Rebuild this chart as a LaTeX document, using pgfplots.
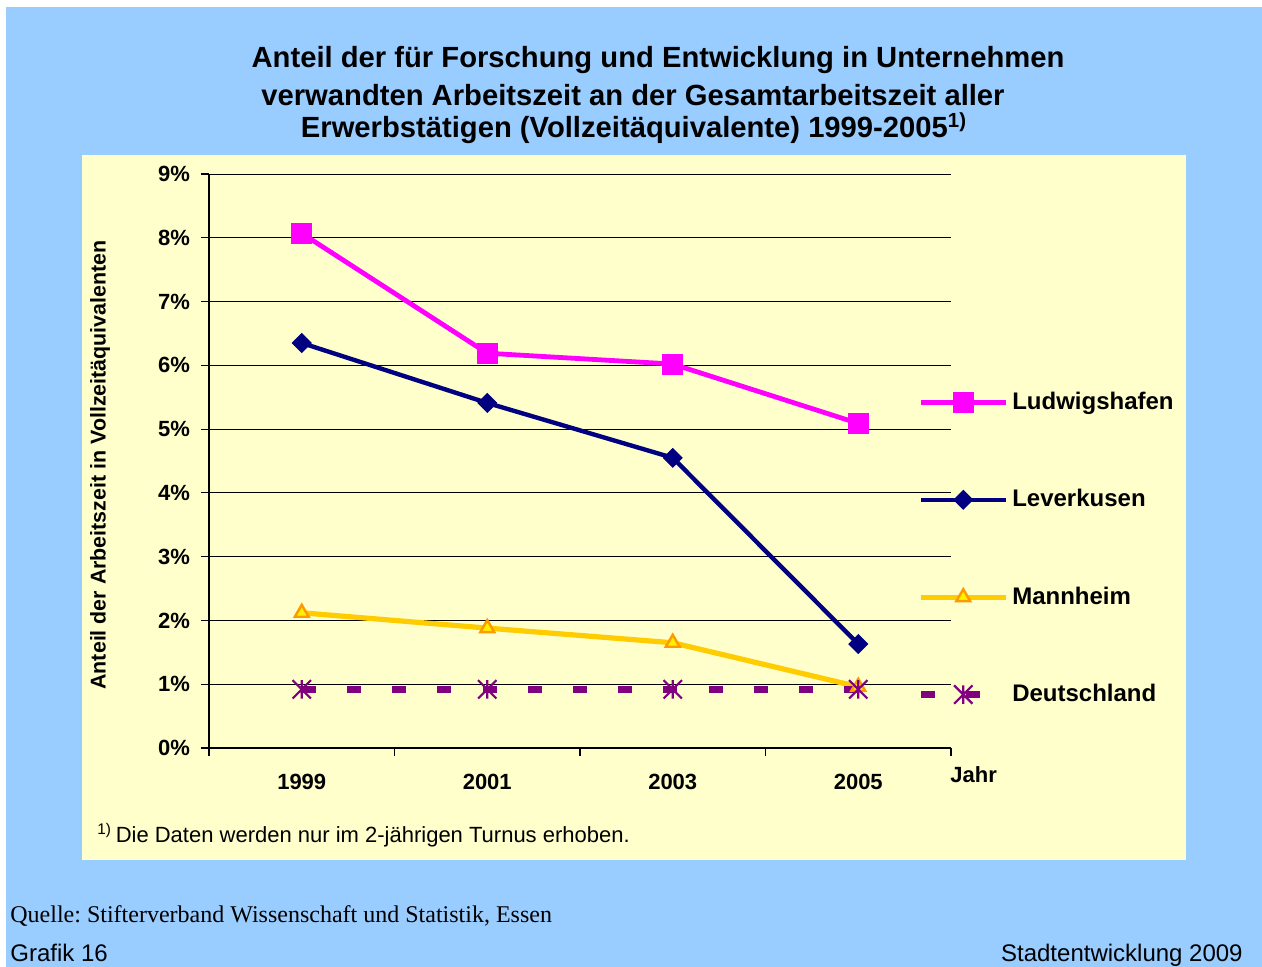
\documentclass[border=0pt]{standalone}
\usepackage{pgfplots}
\pgfplotsset{compat=1.18}
\usepackage{fontspec}
\setmainfont{Liberation Sans}
\newfontfamily\timesfont{Liberation Serif}
\usetikzlibrary{plotmarks}
\frenchspacing
\definecolor{bgBlue}{RGB}{153,204,255}
\definecolor{panelYellow}{RGB}{255,255,204}
\definecolor{lwMagenta}{RGB}{255,0,255}
\definecolor{lvNavy}{RGB}{0,0,128}
\definecolor{maYellow}{RGB}{255,204,0}
\definecolor{maOrange}{RGB}{255,153,0}
\definecolor{dePurple}{RGB}{128,0,128}
% Excel-style star: vertical stroke plus an X
\pgfdeclareplotmark{xlstar}{%
  \pgfpathmoveto{\pgfqpoint{0pt}{\pgfplotmarksize}}%
  \pgfpathlineto{\pgfqpoint{0pt}{-\pgfplotmarksize}}%
  \pgfpathmoveto{\pgfqpoint{-\pgfplotmarksize}{\pgfplotmarksize}}%
  \pgfpathlineto{\pgfqpoint{\pgfplotmarksize}{-\pgfplotmarksize}}%
  \pgfpathmoveto{\pgfqpoint{-\pgfplotmarksize}{-\pgfplotmarksize}}%
  \pgfpathlineto{\pgfqpoint{\pgfplotmarksize}{\pgfplotmarksize}}%
  \pgfusepathqstroke}

\begin{document}
\begin{tikzpicture}
% background, in pixel units (1px = 0.5pt), y up
\begin{scope}[x=0.5pt,y=0.5pt]
\fill[white] (0,0) rectangle (1262,967);
\fill[bgBlue] (6,0) rectangle (1262,960);
\fill[panelYellow] (82,107) rectangle (1186,812);
\node[font=\bfseries\fontsize{14.6}{17}\selectfont] at (658,907) {Anteil der für Forschung und Entwicklung in Unternehmen};
\node[font=\bfseries\fontsize{14.6}{17}\selectfont] at (633,872) {verwandten Arbeitszeit an der Gesamtarbeitszeit aller};
\node[font=\bfseries\fontsize{14.6}{17}\selectfont] at (634,839) {Erwerbstätigen (Vollzeitäquivalente) 1999-2005\textsuperscript{1)}};
\node[font=\bfseries\fontsize{10.7}{13}\selectfont, rotate=90] at (100,502) {Anteil der Arbeitszeit in Vollzeitäquivalenten};
\node[font=\bfseries\fontsize{11}{13}\selectfont, anchor=west, inner sep=0pt] at (950,192) {Jahr};
\node[font=\fontsize{11}{13}\selectfont, anchor=west, inner sep=0pt] at (97,132) {\textsuperscript{1)}\,Die Daten werden nur im 2-jährigen Turnus erhoben.};
\node[font=\timesfont\fontsize{12}{14}\selectfont, anchor=west, inner sep=0pt] at (10,51) {Quelle: Stifterverband Wissenschaft und Statistik, Essen};
\node[font=\fontsize{12}{14}\selectfont, anchor=base west, inner sep=0pt] at (10,5) {Grafik 16};
\node[font=\fontsize{12}{14}\selectfont, anchor=base east, inner sep=0pt] at (1243,5) {Stadtentwicklung 2009};
\end{scope}

\begin{axis}[
    at={(104.5pt,109.5pt)}, anchor=south west,
    scale only axis, width=371pt, height=287pt,
    xmin=-0.5, xmax=3.5, ymin=0, ymax=9,
    axis lines=left, axis line style={-, black, line width=0.6pt},
    xtick={0,1,2,3}, xticklabels={1999,2001,2003,2005},
    minor xtick={-0.5,0.5,1.5,2.5,3.5},
    major x tick style={draw=none},
    minor tick length=4pt, major tick length=4pt,
    tick align=outside, tick style={black, line width=0.6pt},
    ytick={0,...,9},
    yticklabels={0\%,1\%,2\%,3\%,4\%,5\%,6\%,7\%,8\%,9\%},
    ymajorgrids, grid style={black, line width=0.5pt},
    ticklabel style={font=\bfseries\fontsize{11}{13}\selectfont},
    xticklabel style={yshift=-5.5pt},
    yticklabel style={xshift=-2pt},
    legend cell align=left,
    legend style={draw=none, fill=none, at={(rel axis cs:0.954,0.3476)}, anchor=west,
        inner sep=0pt, row sep=34.5pt,
        font=\bfseries\fontsize{12}{14}\selectfont,
        nodes={inner xsep=1.5pt}},
    legend image code/.code={\draw[mark repeat=2,mark phase=2,#1] plot coordinates {(0pt,0pt) (21.25pt,0pt) (42.5pt,0pt)};},
    clip=false,
]
\addplot[lwMagenta, line width=2.4pt, mark=square*, mark size=5pt, mark options={solid, fill=lwMagenta, line width=0.5pt}] coordinates {
    (0,8.07) (1,6.19) (2,6.02) (3,5.09)
};
\addlegendentry{Ludwigshafen}
\addplot[lvNavy, line width=2.2pt, mark=square*, mark size=3.3pt, mark options={solid, fill=lvNavy, rotate=45, line width=0.5pt}] coordinates {
    (0,6.35) (1,5.41) (2,4.55) (3,1.63)
};
\addlegendentry{Leverkusen}
\addplot[maYellow, line width=2.6pt, mark=triangle*, mark size=4pt, mark options={solid, fill=yellow, draw=maOrange, line width=1.2pt}] coordinates {
    (0,2.12) (1,1.88) (2,1.65) (3,0.96)
};
\addlegendentry{Mannheim}
\addplot[dePurple, line width=3.5pt, dash pattern=on 7pt off 15.6pt, mark=xlstar, mark size=4.6pt, mark options={solid, line width=1.1pt}] coordinates {
    (0,0.92) (1,0.92) (2,0.92) (3,0.92)
};
\addlegendentry{Deutschland}
\end{axis}
\pgfresetboundingbox
\path[use as bounding box] (0,0) rectangle (631pt,483.5pt);
\end{tikzpicture}
\end{document}
